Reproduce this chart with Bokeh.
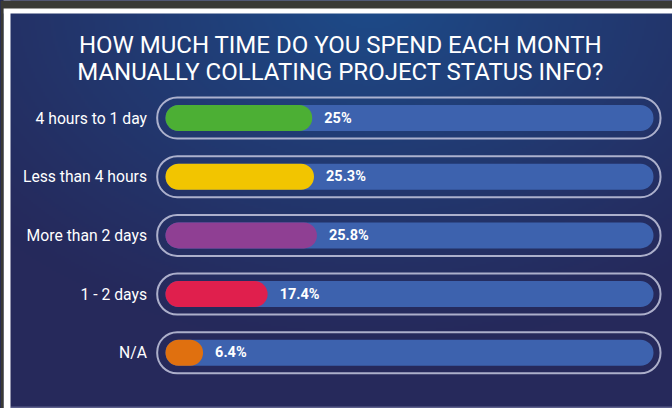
import numpy as np
from bokeh.plotting import figure
from bokeh.models import Range1d, ColumnDataSource, BoxAnnotation, GlobalInlineStyleSheet
from bokeh.core.properties import value
from bokeh.embed import file_html
from bokeh.resources import INLINE

# ---- data ----
TITLE_LINES = ["HOW MUCH TIME DO YOU SPEND EACH MONTH",
               "MANUALLY COLLATING PROJECT STATUS INFO?"]
CATEGORIES = ["4 hours to 1 day", "Less than 4 hours", "More than 2 days", "1 - 2 days", "N/A"]
PERCENTS = [25.0, 25.3, 25.8, 17.4, 6.4]
PERCENT_LABELS = ["25%", "25.3%", "25.8%", "17.4%", "6.4%"]
BAR_COLORS = ["#4caf34", "#f2c500", "#8f3f93", "#e01f4d", "#e0700f"]

# ---- geometry (pixels -> data units) ----
W, H = 672, 408
PX = 5.87            # pixels per percent
X0 = 165             # pixel of 0 %
PY = 58.7            # pixels per row
Y0 = 117.5           # pixel (from top) of first row centre

x_start, x_end = -X0 / PX, (W - X0) / PX
y_end = Y0 / PY
y_start = y_end - H / PY

def xs(px):  # screen x -> data
    return x_start + px / PX

def ys(py):  # screen y (from top) -> data
    return y_end - py / PY

p = figure(width=W, height=H, output_backend="svg", toolbar_location=None,
           x_range=Range1d(x_start, x_end), y_range=Range1d(y_start, y_end),
           min_border=0, outline_line_color=None, border_fill_color="#252858",
           background_fill_color="#252858")
p.axis.visible = False
p.grid.visible = False
p.stylesheets = [GlobalInlineStyleSheet(
    css="html, body { background-color: #262d60; overflow: hidden; }")]

# background gradient
nx, ny = 336, 204
u = np.linspace(0, 1, nx)[None, :]
v = np.linspace(1, 0, ny)[:, None]   # row 0 = bottom
d = np.sqrt(((u - 0.55) / 0.75) ** 2 + (v / 0.85) ** 2)
t = np.clip(1 - d, 0, 1) ** 1.1
outer = np.array([38, 41, 91])
inner = np.array([29, 75, 137])
rgb = outer[None, None, :] + (inner - outer)[None, None, :] * t[:, :, None]
img = np.empty((ny, nx), dtype=np.uint32)
view = img.view(dtype=np.uint8).reshape((ny, nx, 4))
view[:, :, 0] = rgb[:, :, 0].astype(np.uint8)
view[:, :, 1] = rgb[:, :, 1].astype(np.uint8)
view[:, :, 2] = rgb[:, :, 2].astype(np.uint8)
view[:, :, 3] = 255
p.image_rgba(image=[img], x=x_start, y=y_start, dw=x_end - x_start, dh=y_end - y_start)

# frame strips of the source picture
p.add_layout(BoxAnnotation(bottom=ys(408), top=ys(406), left=xs(10),
                           fill_color="#5d608c", fill_alpha=1, line_color=None))
p.add_layout(BoxAnnotation(bottom=ys(13), left=xs(3),
                           fill_color="white", fill_alpha=1, line_color=None))
p.add_layout(BoxAnnotation(right=xs(10), left=xs(3),
                           fill_color="white", fill_alpha=1, line_color=None))
p.add_layout(BoxAnnotation(bottom=ys(8), fill_color="#3a3a35", fill_alpha=1, line_color=None))
p.add_layout(BoxAnnotation(right=xs(3), fill_color="#3a3a35", fill_alpha=1, line_color=None))

rows = [-i for i in range(len(CATEGORIES))]
n = len(CATEGORIES)
src = ColumnDataSource(dict(
    y=rows, cat=CATEGORIES, val=PERCENTS, lab=PERCENT_LABELS, color=BAR_COLORS,
    lab_x=[v_ + 12 / PX for v_ in PERCENTS],
))

# outline pills
p.hbar(y=rows, left=[-8.3 / PX] * n, right=[495 / PX] * n, height=41 / PY,
       fill_color=None, line_color="#c4c7de", line_width=2, line_alpha=0.85,
       border_radius=20)
# tracks
p.hbar(y=rows, left=[0] * n, right=[488 / PX] * n, height=26 / PY,
       fill_color="#3d62ae", line_color=None, border_radius=13)
# bars
p.hbar(y="y", left=0, right="val", height=26 / PY, fill_color="color",
       line_color=None, border_radius=13, source=src)

# value labels
p.text(x="lab_x", y="y", text="lab", source=src, text_color="white",
       text_font=value("Roboto"), text_font_style="bold", text_font_size="14.5px",
       text_align="left", text_baseline="middle")
# category labels
p.text(x=-18.5 / PX, y="y", text="cat", source=src, text_color="white",
       text_font=value("Roboto"), text_font_size="15.7px",
       text_align="right", text_baseline="middle")
# title
p.text(x=[xs(340)] * 2, y=[ys(44.3), ys(71)],
       text=TITLE_LINES, text_color="white", text_font=value("Roboto"),
       text_font_size="24px", text_align="center", text_baseline="alphabetic")

open("out.html", "w").write(file_html(p, INLINE))
